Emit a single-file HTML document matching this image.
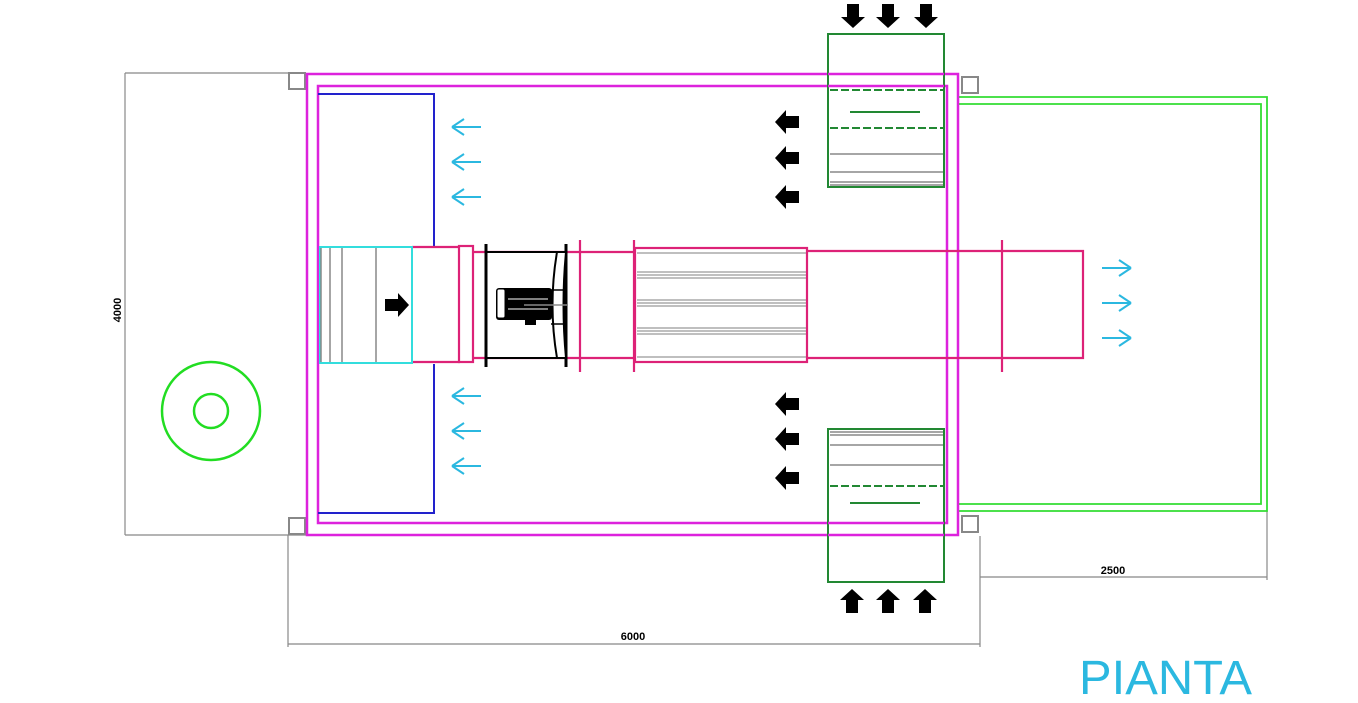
<!DOCTYPE html>
<html><head><meta charset="utf-8"><style>html,body{margin:0;padding:0;background:#fff;width:1358px;height:703px;overflow:hidden}</style></head>
<body>
<svg width="1358" height="703" viewBox="0 0 1358 703" xmlns="http://www.w3.org/2000/svg">
<defs>
<path id="bl" d="M0,0 L11,-12 L11,-6 L24,-6 L24,6 L11,6 L11,12 Z" fill="#000"/>
<g id="ca" fill="none" stroke="#2bb8e0" stroke-width="2"><path d="M0,0 L12,-8 M0,0 L12,8 M0,0 L29,0"/></g>
<g id="cr" fill="none" stroke="#2bb8e0" stroke-width="2"><path d="M29,0 L17,-8 M29,0 L17,8 M0,0 L29,0"/></g>
</defs>
<g stroke="#888" stroke-width="1.2" fill="none">
<path d="M125,73 V535 M125,73 H306 M125,535 H306"/>
<path d="M288,535 V647 M980,536 V647 M288,644 H980"/>
<path d="M980,577 H1267 M1267,511 V580"/>
</g>
<g font-family="Liberation Sans, sans-serif" font-weight="bold" font-size="11" fill="#000">
<text x="633" y="640" text-anchor="middle">6000</text>
<text x="1113" y="574" text-anchor="middle">2500</text>
<text transform="translate(121,310) rotate(-90)" text-anchor="middle">4000</text>
</g>
<circle cx="211" cy="411" r="49" fill="none" stroke="#22dd22" stroke-width="2.5"/>
<circle cx="211" cy="411" r="17" fill="none" stroke="#22dd22" stroke-width="2.5"/>
<g fill="none" stroke="#33dd33" stroke-width="1.8">
<path d="M959,97 H1267 V511 H959"/>
<path d="M959,104 H1261 V504 H959"/>
</g>
<g fill="#fff" stroke="#888" stroke-width="2">
<rect x="289" y="73" width="16" height="16"/><rect x="962" y="77" width="16" height="16"/>
<rect x="289" y="518" width="16" height="16"/><rect x="962" y="516" width="16" height="16"/>
</g>
<g fill="none" stroke="#dd22dd" stroke-width="2.5">
<rect x="307" y="74" width="651" height="461"/>
<rect x="318" y="86" width="629" height="437"/>
</g>
<path d="M318,94 H434 V246 M434,364 V513 H318" fill="none" stroke="#2222cc" stroke-width="2"/>
<g fill="#fff" stroke="#228833" stroke-width="2">
<rect x="828" y="34" width="116" height="153"/>
<rect x="828" y="429" width="116" height="153"/>
</g>
<g stroke="#228833" stroke-width="2" fill="none">
<path d="M830,90 H943 M830,128 H943" stroke-dasharray="8,3"/>
<path d="M850,112 H920"/>
<path d="M830,486 H943" stroke-dasharray="8,3"/>
<path d="M850,503 H920"/>
</g>
<g stroke="#888" stroke-width="1.5">
<path d="M830,154 H943 M830,172 H943 M830,182 H943 M830,185 H943"/>
<path d="M830,432 H943 M830,435 H943 M830,445 H943 M830,465 H943"/>
</g>
<g fill="none" stroke="#dd22dd" stroke-width="2.5"><path d="M828,74 H944 M828,86 H944 M828,523 H944 M828,535 H944"/></g>
<g fill="none" stroke="#dd2277" stroke-width="2.2">
<path d="M412,247 H460 M412,362 H460"/>
<rect x="459" y="246" width="14" height="116"/>
<path d="M473,252 H635 M473,358 H635"/>
<path d="M580,240 V372 M634,240 V372"/>
<rect x="635" y="248" width="172" height="114"/>
<path d="M807,251 H1083 V358 H807"/>
<path d="M1002,240 V372"/>
</g>
<rect x="320" y="247" width="92" height="116" fill="#fff" stroke="#33dddd" stroke-width="2"/>
<g stroke="#888" stroke-width="1.5"><path d="M321,248 V362 M330,248 V362 M342,248 V362 M376,248 V362"/></g>
<use href="#bl" transform="translate(409,305) rotate(180)"/>
<g stroke="#999" stroke-width="1.3"><path d="M637,253 H806 M637,272 H806 M637,275 H806 M637,278 H806 M637,300 H806 M637,303 H806 M637,306 H806 M637,328 H806 M637,331 H806 M637,334 H806 M637,357 H806"/></g>
<rect x="486" y="252" width="80" height="106" fill="#fff" stroke="#000" stroke-width="2"/>
<path d="M486,244 V367 M566,244 V367" stroke="#000" stroke-width="3"/>
<path d="M557,252 Q548,305 557,358 L566,358 Q561,305 566,252 Z" fill="#fff" stroke="#000" stroke-width="2"/>
<path d="M551,290 H564 M551,324 H564" stroke="#000" stroke-width="1.5"/>
<rect x="496" y="288" width="56" height="32" rx="3" fill="#000"/>
<rect x="497" y="289" width="8" height="29" rx="2" fill="#fff" stroke="#000"/>
<rect x="525" y="320" width="11" height="5" fill="#000"/>
<path d="M508,299 H548 M508,309 H548" stroke="#fff" stroke-width="1"/>
<path d="M524,305 H567" stroke="#888" stroke-width="1.5"/>
<use href="#bl" transform="translate(775,122)"/><use href="#bl" transform="translate(775,158)"/><use href="#bl" transform="translate(775,197)"/>
<use href="#bl" transform="translate(775,404)"/><use href="#bl" transform="translate(775,439)"/><use href="#bl" transform="translate(775,478)"/>
<use href="#bl" transform="translate(853,28) rotate(-90)"/><use href="#bl" transform="translate(888,28) rotate(-90)"/><use href="#bl" transform="translate(926,28) rotate(-90)"/>
<use href="#bl" transform="translate(852,589) rotate(90)"/><use href="#bl" transform="translate(888,589) rotate(90)"/><use href="#bl" transform="translate(925,589) rotate(90)"/>
<use href="#ca" x="452" y="127"/><use href="#ca" x="452" y="162"/><use href="#ca" x="452" y="197"/>
<use href="#ca" x="452" y="396"/><use href="#ca" x="452" y="431"/><use href="#ca" x="452" y="466"/>
<use href="#cr" x="1102" y="268"/><use href="#cr" x="1102" y="303"/><use href="#cr" x="1102" y="338"/>
<text x="1079" y="694" font-family="Liberation Sans, sans-serif" font-size="48" fill="#2bb8e0" textLength="173" lengthAdjust="spacingAndGlyphs">PIANTA</text>
</svg>
</body></html>
